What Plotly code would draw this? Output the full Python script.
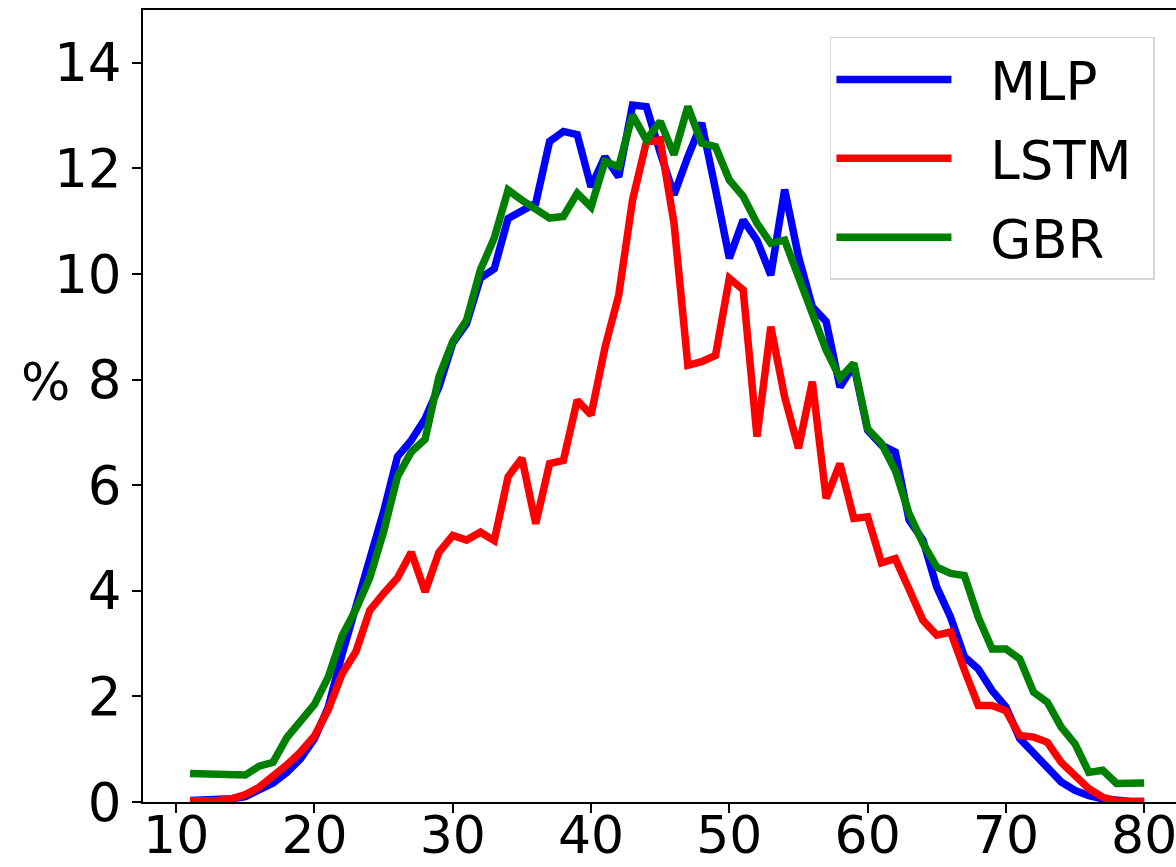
import plotly.graph_objects as go

# Age (years) on the x axis
ages = list(range(11, 81))

mlp = [0.03, 0.03, 0.04, 0.06, 0.10, 0.22, 0.36, 0.56, 0.82, 1.20,
       1.80, 2.80, 3.70, 4.64, 5.50, 6.54, 6.85, 7.26, 7.86, 8.69,
       9.06, 9.92, 10.10, 11.05, 11.18, 11.34, 12.51, 12.70, 12.64, 11.65,
       12.22, 11.84, 13.20, 13.17, 12.30, 11.50, 12.22, 12.86, 11.60, 10.30,
       11.02, 10.64, 9.98, 11.60, 10.33, 9.38, 9.10, 7.86, 8.27, 7.04,
       6.76, 6.63, 5.34, 4.96, 4.07, 3.50, 2.75, 2.52, 2.11, 1.80,
       1.20, 0.94, 0.66, 0.38, 0.22, 0.12, 0.06, 0.03, 0.01, 0.01]

lstm = [0.02, 0.02, 0.03, 0.06, 0.14, 0.28, 0.47, 0.70, 0.95, 1.25,
        1.75, 2.43, 2.85, 3.63, 3.95, 4.24, 4.73, 3.98, 4.73, 5.05,
        4.96, 5.11, 4.95, 6.16, 6.51, 5.27, 6.41, 6.47, 7.61, 7.33,
        8.60, 9.60, 11.40, 12.50, 12.54, 10.96, 8.27, 8.34, 8.46, 9.92,
        9.70, 6.92, 9.00, 7.67, 6.70, 7.96, 5.75, 6.41, 5.37, 5.40,
        4.53, 4.61, 4.03, 3.44, 3.16, 3.22, 2.50, 1.83, 1.83, 1.73,
        1.26, 1.23, 1.13, 0.75, 0.50, 0.25, 0.09, 0.02, 0.01, 0.01]

gbr = [0.54, 0.54, 0.53, 0.51, 0.51, 0.68, 0.75, 1.22, 1.55, 1.85,
       2.37, 3.15, 3.65, 4.25, 5.12, 6.16, 6.63, 6.87, 8.05, 8.72,
       9.13, 10.08, 10.68, 11.59, 11.40, 11.21, 11.06, 11.09, 11.53, 11.27,
       12.13, 12.03, 13.01, 12.54, 12.89, 12.26, 13.17, 12.48, 12.41, 11.78,
       11.47, 10.96, 10.58, 10.64, 9.95, 9.35, 8.56, 8.03, 8.31, 7.07,
       6.79, 6.28, 5.46, 4.90, 4.45, 4.33, 4.29, 3.50, 2.90, 2.90,
       2.71, 2.08, 1.89, 1.42, 1.10, 0.56, 0.60, 0.35, 0.36, 0.36]

series = [("MLP", mlp, "#0000ff"), ("LSTM", lstm, "#ff0000"), ("GBR", gbr, "#008000")]

FONT = "DejaVu Sans"
NBSP = "\u00a0"

fig = go.Figure()
for name, vals, color in series:
    fig.add_trace(go.Scatter(
        x=ages, y=vals, mode="lines",
        # padding around the legend label text
        name=NBSP * 2 + name + NBSP,
        legendgroup=name,
        line=dict(color=color, width=7.5),
    ))

axis_common = dict(
    showline=True, linecolor="black", linewidth=1.6,
    ticks="outside", ticklen=9, tickwidth=1.5, tickcolor="black",
    showgrid=False, zeroline=False, automargin=False,
    ticklabeloverflow="allow",
)

fig.update_layout(
    width=1176, height=867,
    margin=dict(l=143, r=0, t=10, b=65),
    paper_bgcolor="white", plot_bgcolor="white",
    font=dict(family=FONT, color="black"),
    xaxis=dict(range=[7.6, 82.3], tickmode="linear", tick0=10, dtick=10,
               mirror=True, ticklabelstandoff=-22,
               tickfont=dict(family=FONT, size=52, color="black"),
               **axis_common),
    yaxis=dict(range=[0, 15], tickmode="linear", tick0=0, dtick=2,
               tickfont=dict(family=FONT, size=53, color="black"),
               **axis_common),
    legend=dict(
        x=0.665, y=0.966, xanchor="left", yanchor="top",
        bgcolor="rgba(255,255,255,0.8)", bordercolor="#d6d6d6", borderwidth=1.5,
        font=dict(family=FONT, size=53, color="black"),
        itemwidth=115, tracegroupgap=7,
    ),
    annotations=[dict(
        text="%", xref="paper", yref="paper", x=-0.0945, y=0.53,
        xanchor="center", yanchor="middle", showarrow=False,
        font=dict(family=FONT, size=52, color="black"),
    )],
)

fig.write_html("out.html")
